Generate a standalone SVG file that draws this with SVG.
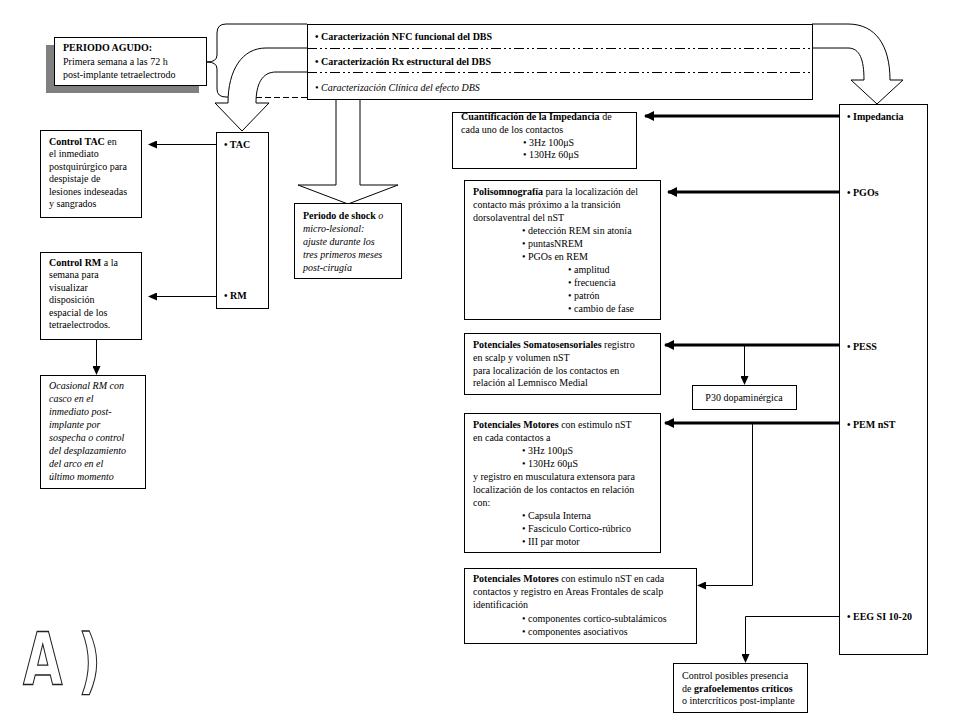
<svg xmlns="http://www.w3.org/2000/svg" width="960" height="720" viewBox="0 0 960 720">
<style>
text{font-family:"Liberation Serif","Times New Roman",Times,"DejaVu Serif",serif;font-size:10px;fill:#000}
.bd{font-weight:bold}
.it{font-style:italic}
.box{fill:#fff;stroke:#000;stroke-width:1}
.thin{fill:none;stroke:#000;stroke-width:1}
.thick{fill:none;stroke:#000;stroke-width:3}
.big{fill:#fff;stroke:#000;stroke-width:1}
text.lbl{font-family:"DejaVu Sans","Liberation Sans",Arial,sans-serif;font-weight:bold;fill:#fff;stroke:#222}
</style>
<defs>
<marker id="ah" markerUnits="userSpaceOnUse" markerWidth="9" markerHeight="8" refX="8" refY="4" orient="auto">
<path d="M0,0 L9,4 L0,8 z" fill="#000"/>
</marker>
<marker id="ahT" markerUnits="userSpaceOnUse" markerWidth="10" markerHeight="10" refX="9" refY="5" orient="auto">
<path d="M0,0 L10,5 L0,10 z" fill="#000"/>
</marker>
</defs>
<rect width="960" height="720" fill="#fff"/>

<g id="bigArrows">
<path class="big" d="M307,48 L266,48 C242,48 228,70 228,103 L215,103 L242,131 L269,103 L256,103 C256,84 262,72 276,72 L307,72"/>
<path class="big" d="M336,100 L336,185 L298,185 L348,204 L398,185 L360,185 L360,100"/>
<path class="big" d="M812,24 L848,24 C876,24 890,46 890,80 L903,80 L877,104 L851,80 L864,80 C864,60 860,48 848,48 L812,48"/>
<path class="thin" d="M307,24 L226,24 Q217,24 217,33 L217,55 Q217,62 207,62 Q217,62 217,69 L217,89 Q217,97 226,97 L228,97"/>
<line class="thin" x1="256" y1="97.5" x2="307" y2="97.5" stroke-dasharray="6,3"/>
</g>

<g id="caracterizacion">
<rect class="box" x="307.5" y="24.5" width="505" height="75"/>
<line class="thin" x1="307" y1="48.5" x2="812" y2="48.5" stroke-dasharray="10,3,2,3,2,3"/>
<line class="thin" x1="307" y1="72.5" x2="812" y2="72.5" stroke-dasharray="10,3,2,3,2,3"/>
<text x="315" y="39.5" class="bd">• Caracterización NFC funcional del DBS</text>
<text x="315" y="64.5" class="bd">• Caracterización Rx estructural del DBS</text>
<text x="315" y="90.5" class="it">• Caracterización Clínica del efecto DBS</text>
</g>

<g id="agudo">
<rect x="46" y="45" width="153" height="48" fill="#808080"/>
<rect class="box" x="54.5" y="37.5" width="152" height="48"/>
<text x="63" y="50.5" class="bd">PERIODO AGUDO:</text>
<text x="63" y="64.5">Primera semana a las 72 h</text>
<text x="63" y="78">post-implante tetraelectrodo</text>
</g>

<g id="tacrm">
<rect class="box" x="216.5" y="132.5" width="52" height="176"/>
<text x="224" y="147.5" class="bd">• TAC</text>
<text x="224" y="299" class="bd">• RM</text>
</g>

<g id="ctrlTAC">
<rect class="box" x="40.5" y="130.5" width="101" height="87"/>
<text x="49" y="144.5"><tspan class="bd">Control  TAC</tspan> en</text>
<text x="49" y="157">el inmediato</text>
<text x="49" y="169.5">postquirúrgico para</text>
<text x="49" y="182">despistaje de</text>
<text x="49" y="194.5">lesiones indeseadas</text>
<text x="49" y="207">y sangrados</text>
</g>

<g id="ctrlRM">
<rect class="box" x="40.5" y="252.5" width="101" height="87"/>
<text x="49" y="265.5"><tspan class="bd">Control  RM</tspan> a la</text>
<text x="49" y="278">semana para</text>
<text x="49" y="290.5">visualizar</text>
<text x="49" y="303">disposición</text>
<text x="49" y="315.5">espacial de los</text>
<text x="49" y="328">tetraelectrodos.</text>
</g>

<g id="ocasional">
<rect class="box" x="40.5" y="375.5" width="105" height="113"/>
<text x="49" y="388.5" class="it">Ocasional RM con</text>
<text x="49" y="401.5" class="it">casco en el</text>
<text x="49" y="414.5" class="it">inmediato post-</text>
<text x="49" y="427.5" class="it">implante por</text>
<text x="49" y="440.5" class="it">sospecha o control</text>
<text x="49" y="453.5" class="it">del desplazamiento</text>
<text x="49" y="466.5" class="it">del arco en el</text>
<text x="49" y="479.5" class="it">último momento</text>
</g>

<g id="shock">
<rect class="box" x="294.5" y="203.5" width="107" height="75"/>
<text x="303" y="218.5"><tspan class="bd">Periodo de shock</tspan><tspan class="it"> o</tspan></text>
<text x="303" y="231.5" class="it">micro-lesional:</text>
<text x="303" y="244.5" class="it">ajuste durante los</text>
<text x="303" y="257.5" class="it">tres primeros meses</text>
<text x="303" y="270.5" class="it">post-cirugía</text>
</g>

<g id="cuant">
<rect class="box" x="452.5" y="112.5" width="184" height="56"/>
<text x="461" y="119.5"><tspan class="bd">Cuantificación de la Impedancia</tspan> de</text>
<text x="461" y="132.5">cada uno de los contactos</text>
<text x="523" y="145.5">• 3Hz  100μS</text>
<text x="523" y="157.5">• 130Hz  60μS</text>
</g>

<g id="polisom">
<rect class="box" x="464.5" y="180.5" width="196" height="139"/>
<text x="473" y="194.5"><tspan class="bd">Polisomnografía</tspan> para la localización del</text>
<text x="473" y="207.5">contacto más próximo a la transición</text>
<text x="473" y="220.5">dorsolaventral del nST</text>
<text x="522" y="233.5">• detección REM sin atonía</text>
<text x="522" y="246.5">• puntasNREM</text>
<text x="522" y="259.5">• PGOs en REM</text>
<text x="568" y="272.5">• amplitud</text>
<text x="568" y="285.5">• frecuencia</text>
<text x="568" y="298.5">• patrón</text>
<text x="568" y="311.5">• cambio de fase</text>
</g>

<g id="soma">
<rect class="box" x="464.5" y="333.5" width="196" height="61"/>
<text x="473" y="347.5"><tspan class="bd">Potenciales Somatosensoriales</tspan> registro</text>
<text x="473" y="360.5">en scalp y volumen nST</text>
<text x="473" y="373.5">para localización de los contactos en</text>
<text x="473" y="386">relación al Lemnisco Medial</text>
</g>

<g id="p30">
<rect class="box" x="692.5" y="385.5" width="104" height="24"/>
<text x="744" y="401" text-anchor="middle">P30 dopaminérgica</text>
</g>

<g id="mot1">
<rect class="box" x="464.5" y="413.5" width="196" height="139"/>
<text x="473" y="427.5"><tspan class="bd">Potenciales Motores</tspan> con  estimulo nST</text>
<text x="473" y="440.5">en cada contactos a</text>
<text x="522" y="453.5">• 3Hz  100μS</text>
<text x="522" y="466.5">• 130Hz  60μS</text>
<text x="473" y="479.5">y registro en musculatura extensora para</text>
<text x="473" y="492.5">localización de los contactos en relación</text>
<text x="473" y="505.5">con:</text>
<text x="522" y="518.5">• Capsula Interna</text>
<text x="522" y="531.5">• Fasciculo Cortico-rúbrico</text>
<text x="522" y="544.5">• III par motor</text>
</g>

<g id="mot2">
<rect class="box" x="464.5" y="568.5" width="232" height="75"/>
<text x="473" y="581.5"><tspan class="bd">Potenciales Motores</tspan> con estimulo nST en cada</text>
<text x="473" y="594.5">contactos y registro en Areas Frontales de scalp</text>
<text x="473" y="607.5">identificación</text>
<text x="522" y="621.5">• componentes cortico-subtalámicos</text>
<text x="522" y="634.5">• componentes asociativos</text>
</g>

<g id="rightCol">
<rect class="box" x="839.5" y="104.5" width="88" height="550"/>
<text x="847" y="119.5" class="bd">• Impedancia</text>
<text x="847" y="196" class="bd">• PGOs</text>
<text x="847" y="350" class="bd">• PESS</text>
<text x="847" y="427.5" class="bd">• PEM nST</text>
<text x="847" y="620" class="bd">• EEG SI 10-20</text>
</g>

<g id="ctrlEEG">
<rect class="box" x="673.5" y="663.5" width="134" height="49"/>
<text x="682" y="679">Control posibles presencia</text>
<text x="682" y="691.5">de <tspan class="bd">grafoelementos críticos</tspan></text>
<text x="682" y="704">o intercríticos post-implante</text>
</g>

<g id="connectors">
<line class="thin" x1="216" y1="144.5" x2="149" y2="144.5" marker-end="url(#ah)"/>
<line class="thin" x1="216" y1="296.5" x2="149" y2="296.5" marker-end="url(#ah)"/>
<line class="thin" x1="96.5" y1="339" x2="96.5" y2="374" marker-end="url(#ah)"/>
<line class="thick" x1="839" y1="116" x2="645" y2="116" marker-end="url(#ahT)"/>
<line class="thick" x1="839" y1="192" x2="668" y2="192" marker-end="url(#ahT)"/>
<line class="thick" x1="839" y1="345" x2="665" y2="345" marker-end="url(#ahT)"/>
<line class="thin" x1="744.5" y1="345" x2="744.5" y2="384" marker-end="url(#ah)"/>
<line class="thick" x1="839" y1="423" x2="665" y2="423" marker-end="url(#ahT)"/>
<polyline class="thin" points="752.5,423 752.5,585.5 698,585.5" marker-end="url(#ah)"/>
<polyline class="thin" points="839,616.5 745.5,616.5 745.5,662" marker-end="url(#ah)"/>
</g>

<g id="label">
<text class="lbl" x="0" y="0" transform="translate(23,685) scale(0.7,1)" style="font-size:73px;stroke-width:1.4px">A</text>
<text class="lbl" x="0" y="0" transform="translate(78,685) scale(0.7,1)" style="font-size:72px;stroke-width:1.4px">)</text>
</g>
</svg>
